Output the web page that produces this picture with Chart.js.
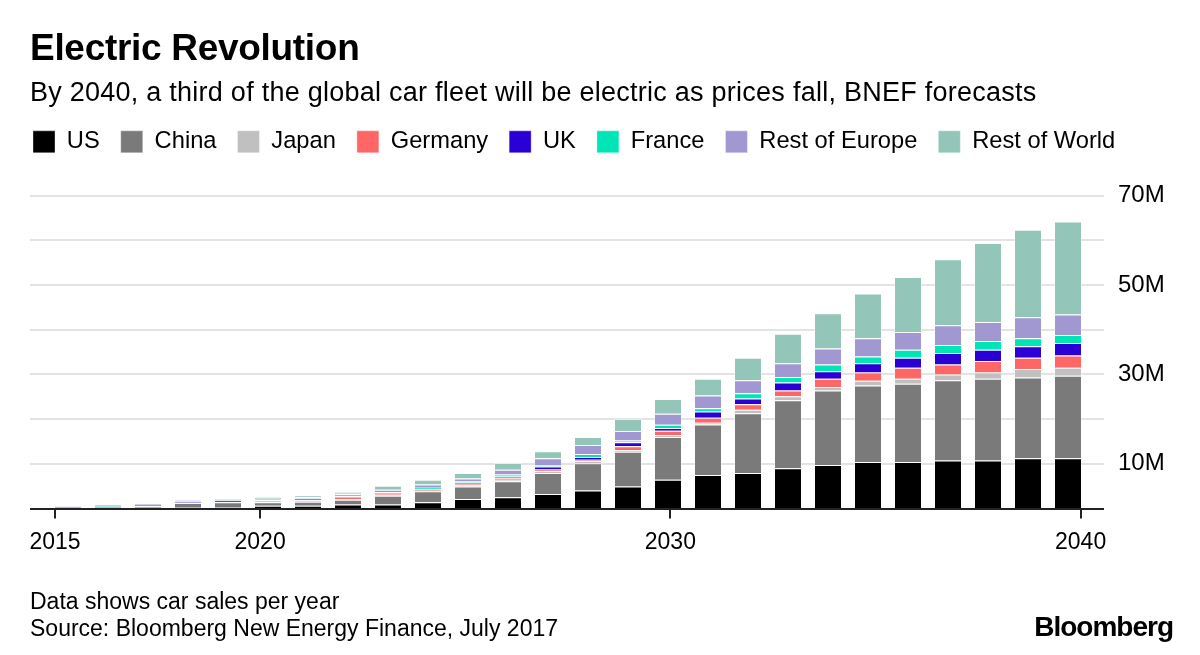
<!DOCTYPE html>
<html>
<head>
<meta charset="utf-8">
<title>Electric Revolution</title>
<script src="https://cdn.jsdelivr.net/npm/chart.js@4.4.1/dist/chart.umd.min.js"></script>
<style>
  body { margin: 0; background: #fff; font-family: "Liberation Sans", Arial, sans-serif; color: #000; }
  #wrap { position: relative; width: 1200px; height: 655px; overflow: hidden; }
  #chart { position: absolute; left: 0; top: 0; }
  .title { position: absolute; left: 30px; top: 28px; font-size: 37px; line-height: 40px; font-weight: bold; letter-spacing: -0.3px; }
  .sub { position: absolute; left: 30px; top: 77px; font-size: 27px; line-height: 30px; letter-spacing: 0.25px; }
  .note { position: absolute; left: 30px; font-size: 23px; line-height: 26px; }
  .logo { position: absolute; right: 27px; top: 612px; font-size: 28px; line-height: 30px; font-weight: bold; letter-spacing: -1px; }
</style>
</head>
<body>
<div id="wrap">
  <canvas id="chart" width="1200" height="655"></canvas>
  <div class="title">Electric Revolution</div>
  <div class="sub">By 2040, a third of the global car fleet will be electric as prices fall, BNEF forecasts</div>
  <div class="note" style="top:588px">Data shows car sales per year</div>
  <div class="note" style="top:615px">Source: Bloomberg New Energy Finance, July 2017</div>
  <div class="logo">Bloomberg</div>
</div>
<script>
// car sales per year, millions
const years = ['2015','2016','2017','2018','2019','2020','2021','2022','2023','2024','2025','2026','2027',
               '2028','2029','2030','2031','2032','2033','2034','2035','2036','2037','2038','2039','2040'];

const us      = [0.05, 0.05, 0.15, 0.15, 0.3, 0.6, 0.6, 0.9, 0.9, 1.35, 2.1, 2.5, 3.2, 4.0, 4.9, 6.4, 7.5, 7.9, 9.0, 9.7, 10.4, 10.4, 10.7, 10.7, 11.2, 11.2];
const china   = [0.25, 0.3, 0.3, 1.05, 1.1, 0.75, 0.9, 1.05, 1.95, 2.5, 2.8, 3.6, 4.7, 6.1, 7.8, 9.6, 11.3, 13.4, 15.2, 16.7, 17.1, 17.5, 18.0, 18.3, 18.1, 18.5];
const japan   = [0.02, 0.02, 0.02, 0.02, 0.02, 0.45, 0.3, 0.1, 0.15, 0.1, 0.3, 0.3, 0.5, 0.5, 0.3, 0.4, 0.4, 0.8, 0.9, 0.8, 1.1, 1.1, 1.3, 1.4, 1.9, 1.8];
const germany = [0.02, 0.02, 0.02, 0.02, 0.02, 0.02, 0.05, 0.6, 0.2, 0.3, 0.3, 0.45, 0.3, 0.3, 0.9, 1.0, 1.1, 1.2, 1.3, 1.8, 1.8, 2.5, 2.2, 2.6, 2.5, 2.7];
const uk      = [0.02, 0.02, 0.02, 0.3, 0.3, 0.02, 0.3, 0.05, 0.1, 0.1, 0.3, 0.3, 0.7, 0.6, 0.9, 0.6, 1.4, 1.3, 1.8, 1.7, 2.1, 2.2, 2.6, 2.5, 2.6, 2.8];
const france  = [0.02, 0.45, 0.02, 0.02, 0.02, 0.02, 0.05, 0.45, 0.3, 0.3, 0.2, 0.45, 0.3, 0.7, 0.4, 0.7, 0.7, 1.2, 1.2, 1.5, 1.5, 1.8, 1.8, 2.0, 1.8, 1.8];
const restEu  = [0.02, 0.02, 0.55, 0.3, 0.4, 0.3, 0.3, 0.15, 0.6, 0.7, 0.7, 1.05, 1.5, 2.0, 2.1, 2.5, 2.9, 2.9, 3.1, 3.6, 4.1, 4.0, 4.4, 4.2, 4.7, 4.6];
const restW   = [0.02, 0.02, 0.02, 0.02, 0.02, 0.45, 0.45, 0.45, 0.85, 1.05, 1.2, 1.5, 1.6, 1.8, 2.7, 3.3, 3.7, 5.0, 6.6, 7.9, 10.0, 12.3, 14.8, 17.7, 19.6, 20.8];

const seriesNames  = ['US', 'China', 'Japan', 'Germany', 'UK', 'France', 'Rest of Europe', 'Rest of World'];
const seriesValues = [us, china, japan, germany, uk, france, restEu, restW];
const seriesColors = ['#000000', '#7a7a7a', '#c0c0c0', '#ff6666', '#2a00d5', '#00e5b5', '#a298d1', '#93c6b8'];

const yLabelTicks = [10, 30, 50, 70];
const yearTicks = [2015, 2020, 2030, 2040];

const fontFamily = '"Liberation Sans", Arial, sans-serif';

// light gridlines behind the bars, black baseline on top
const gridPlugin = {
    id: 'bbgGrid',
    beforeDatasetsDraw(chart) {
        const { ctx, chartArea, scales: { y } } = chart;
        ctx.save();
        ctx.strokeStyle = '#e3e3e3';
        ctx.lineWidth = 2;
        for (let v = 10; v <= 70; v += 10) {
            const py = Math.round(y.getPixelForValue(v));
            ctx.beginPath();
            ctx.moveTo(chartArea.left - 18, py);
            ctx.lineTo(chartArea.right + 16, py);
            ctx.stroke();
        }
        ctx.restore();
    },
    afterDatasetsDraw(chart) {
        const { ctx, chartArea, scales: { y } } = chart;
        const py = Math.round(y.getPixelForValue(0)) + 1;
        ctx.save();
        ctx.strokeStyle = '#222';
        ctx.lineWidth = 2;
        ctx.beginPath();
        ctx.moveTo(chartArea.left - 18, py);
        ctx.lineTo(chartArea.right + 16, py);
        ctx.stroke();
        ctx.restore();
    }
};

// extra room under the legend
const legendGap = {
    id: 'legendGap',
    beforeInit(chart) {
        const fit = chart.legend.fit;
        chart.legend.fit = function () {
            fit.bind(chart.legend)();
            this.height += 32;
        };
    }
};

const ctx = document.getElementById('chart').getContext('2d');
const chart = new Chart(ctx, {
    type: 'bar',
    data: {
        labels: years,
        datasets: seriesNames.map((name, i) => ({
            label: name,
            data: seriesValues[i],
            xAxisID: 'x',
            yAxisID: 'y',
            backgroundColor: seriesColors[i],
            borderColor: 'rgba(255,255,255,0.35)',
            borderWidth: 1,
            barPercentage: 0.7,
            categoryPercentage: 1.0
        }))
    },
    options: {
        responsive: false,
        animation: false,
        layout: { padding: { left: 12, right: 0, top: 109, bottom: 89 } },
        plugins: {
            legend: {
                position: 'top',
                align: 'start',
                labels: {
                    boxWidth: 22,
                    boxHeight: 22,
                    padding: 21,
                    color: '#000',
                    font: { family: fontFamily, size: 23.7 }
                }
            },
            tooltip: { enabled: false }
        },
        scales: {
            x: {
                type: 'category',
                stacked: true,
                display: false
            },
            yrs: {
                type: 'linear',
                axis: 'x',
                position: 'bottom',
                offset: false,
                min: 2014.83,
                max: 2040.18,
                afterBuildTicks: (axis) => { axis.ticks = yearTicks.map(v => ({ value: v })); },
                grid: { offset: false, drawOnChartArea: false, drawTicks: true, tickLength: 10, color: '#222', lineWidth: 2 },
                border: { display: false },
                ticks: {
                    autoSkip: false,
                    maxRotation: 0,
                    padding: 10,
                    color: '#000',
                    font: { family: fontFamily, size: 23 },
                    callback: (v) => String(v)
                }
            },
            yLeft: {
                type: 'linear',
                axis: 'y',
                position: 'left',
                min: 0,
                max: 1,
                display: true,
                grid: { display: false, drawTicks: false },
                border: { display: false },
                ticks: { display: false },
                afterFit: (s) => { s.width = 36; }
            },
            y: {
                type: 'linear',
                stacked: true,
                position: 'right',
                min: 0,
                max: 70,
                grid: { display: false, drawTicks: false },
                border: { display: false },
                afterFit: (s) => { s.width = 112; },
                ticks: {
                    stepSize: 10,
                    padding: 30,
                    color: '#000',
                    font: { family: fontFamily, size: 24 },
                    callback: (v) => yLabelTicks.includes(v) ? v + 'M' : ''
                }
            }
        }
    },
    plugins: [gridPlugin, legendGap]
});
</script>
</body>
</html>
